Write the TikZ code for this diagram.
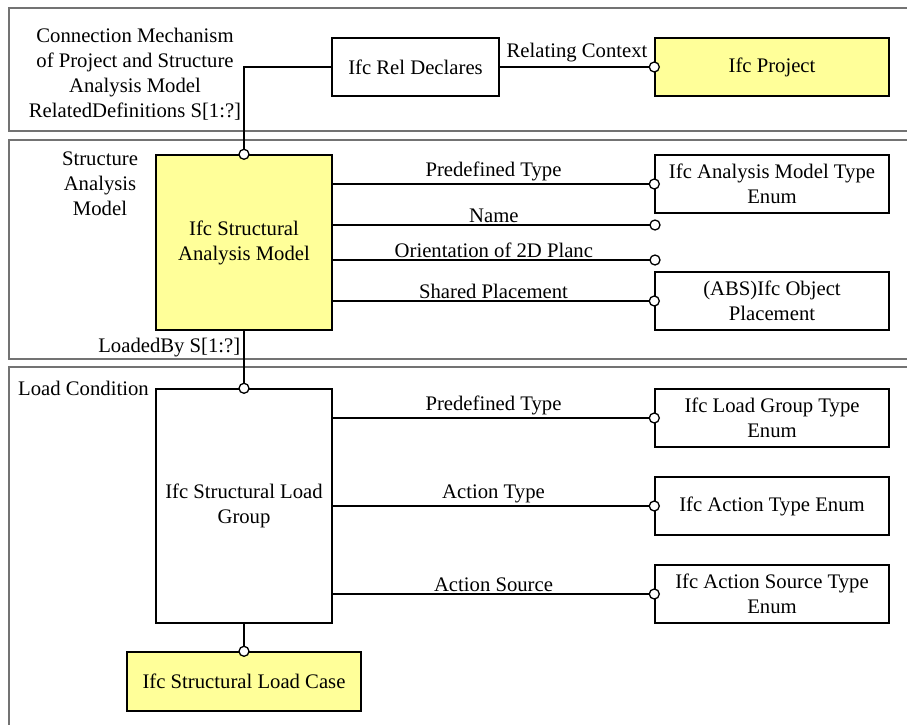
\documentclass[tikz,border=0pt]{standalone}
\usepackage{fontspec}
\setmainfont{Liberation Serif}
\definecolor{ifcyellow}{RGB}{255,255,153}
\tikzset{
    frame/.style={draw=black!55,line width=1.6pt},
    entity/.style={draw,line width=1.4pt,align=center,inner sep=2pt,minimum width=234pt,minimum height=58pt},
    mainentity/.style={entity,fill=ifcyellow},
    conn/.style={line width=1.4pt},
    ocirc/.style={circle,draw,fill=white,line width=1.3pt,minimum size=10pt,inner sep=0pt},
    lbl/.style={align=center,inner sep=1pt}
}
\begin{document}
\begin{tikzpicture}[x=1pt,y=-1pt,font=\fontsize{20.7}{25}\selectfont]
    \clip (0,0) rectangle (907,725);
    \fill[white] (0,0) rectangle (907,725);
    \draw[frame] (9,8) rectangle (930,131);
    \draw[frame] (9,140) rectangle (930,359);
    \draw[frame] (9,367) rectangle (930,740);
    \node[lbl] (cm) at (135,74.5) {Connection Mechanism\\of Project and Structure\\Analysis Model\\RelatedDefinitions S[1:?]};
    \node[lbl] (sa) at (100,184) {Structure\\Analysis\\Model};
    \node[lbl,anchor=west] (lc) at (17,388) {Load Condition};
    \node[entity,minimum width=167pt] (rel) at (415.5,67) {Ifc Rel Declares};
    \node[mainentity] (proj) at (772,67) {Ifc Project};
    \node[mainentity,minimum width=176pt,minimum height=175pt] (sam) at (244,242.5) {Ifc Structural\\Analysis Model};
    \node[entity] (amte) at (772,184) {Ifc Analysis Model Type\\Enum};
    \node[entity] (place) at (772,301) {(ABS)Ifc Object\\Placement};
    \coordinate (nm) at (655,225);
    \coordinate (ori) at (655,260);
    \node[entity,minimum width=176pt,minimum height=234pt] (slg) at (244,506) {Ifc Structural Load\\Group};
    \node[entity] (lgte) at (772,418) {Ifc Load Group Type\\Enum};
    \node[entity] (ate) at (772,506) {Ifc Action Type Enum};
    \node[entity] (aste) at (772,594) {Ifc Action Source Type\\Enum};
    \node[mainentity,minimum height=59pt] (slc) at (244,681.5) {Ifc Structural Load Case};
    \draw[conn] (rel.west) -| (sam.north) node[ocirc] {};
    \draw[conn] (rel.east) -- node[lbl,above=3pt] {Relating Context} (proj.west) node[ocirc] {};
    \draw[conn] (sam.east |- amte.west) -- node[lbl,above=1pt] {Predefined Type} (amte.west) node[ocirc] {};
    \draw[conn] (sam.east |- nm) -- node[lbl,above=1pt] {Name} (nm) node[ocirc] {};
    \draw[conn] (sam.east |- ori) -- node[lbl,above=1pt] {Orientation of 2D Planc} (ori) node[ocirc] {};
    \draw[conn] (sam.east |- place.west) -- node[lbl,above=1pt] {Shared Placement} (place.west) node[ocirc] {};
    \draw[conn] (sam.south) -- node[lbl,left=2pt,pos=0.3] {LoadedBy S[1:?]} (slg.north) node[ocirc] {};
    \draw[conn] (slg.east |- lgte.west) -- node[lbl,above=1pt] {Predefined Type} (lgte.west) node[ocirc] {};
    \draw[conn] (slg.east |- ate.west) -- node[lbl,above=1pt] {Action Type} (ate.west) node[ocirc] {};
    \draw[conn] (slg.east |- aste.west) -- node[lbl,above=1pt] {Action Source} (aste.west) node[ocirc] {};
    \draw[conn] (slg.south) -- (slc.north) node[ocirc] {};
\end{tikzpicture}
\end{document}
